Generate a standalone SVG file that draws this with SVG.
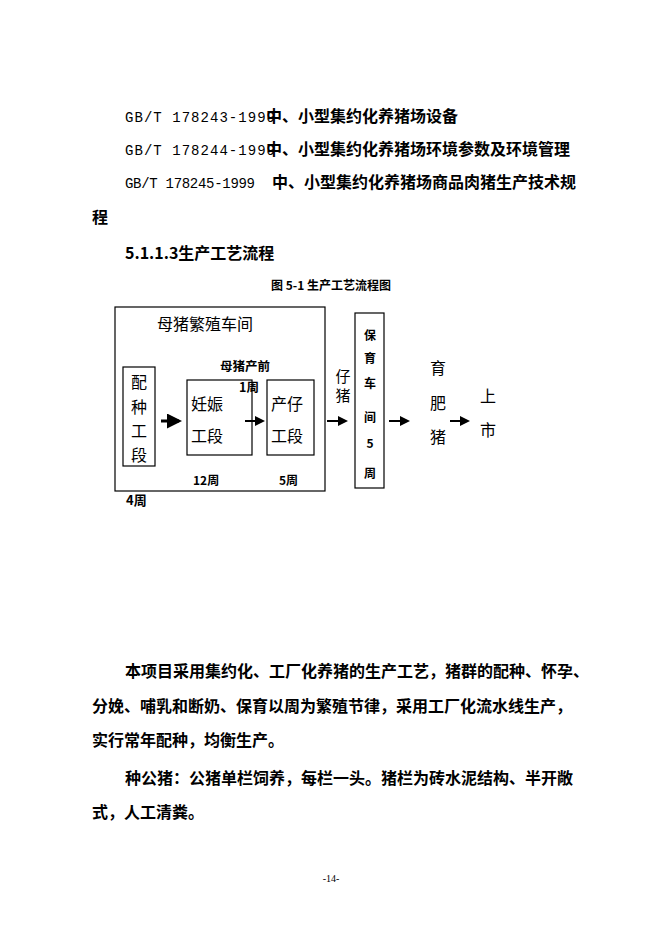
<svg xmlns="http://www.w3.org/2000/svg" width="662" height="936" viewBox="0 0 662 936">
<style>
.m{font-family:"Liberation Mono",monospace;font-size:14px}
.c{font-family:"Noto Sans CJK SC",sans-serif;font-size:16px}
.b{font-weight:bold}
.d{font-family:"Noto Sans CJK SC",sans-serif;font-size:16px}
.s{font-family:"Noto Sans CJK SC",sans-serif;font-size:12px;font-weight:bold}
rect{fill:none;stroke:#000;stroke-width:1.2}
</style>
<defs><marker id="a" markerWidth="5" markerHeight="5" refX="4" refY="2.5" orient="auto" markerUnits="strokeWidth"><path d="M0,0L5,2.5L0,5z"/></marker></defs>
<rect x="0" y="0" width="662" height="936" style="fill:#fff;stroke:none"/>
<text x="125" y="122" class="m" textLength="150">GB/T 178243-1999</text><text x="266" y="122" class="c b">中、小型集约化养猪场设备</text>
<text x="125" y="155" class="m" textLength="150">GB/T 178244-1999</text><text x="266" y="155" class="c b">中、小型集约化养猪场环境参数及环境管理</text>
<text x="125" y="188" class="m" textLength="130">GB/T  178245-1999</text><text x="272" y="188" class="c b">中、小型集约化养猪场商品肉猪生产技术规</text>
<text x="92" y="223" class="c b">程</text>
<text x="125" y="259" class="c b">5.1.1.3生产工艺流程</text>
<text x="331" y="290" class="s" text-anchor="middle">图 5-1 生产工艺流程图</text>
<g id="workshop"><rect x="115" y="307" width="210" height="184"/><text x="157" y="330" class="d">母猪繁殖车间</text></g>
<g id="peizhong"><rect x="123" y="367" width="32" height="99"/><text x="139" y="388" class="d" text-anchor="middle">配</text><text x="139" y="413" class="d" text-anchor="middle">种</text><text x="139" y="437" class="d" text-anchor="middle">工</text><text x="139" y="461" class="d" text-anchor="middle">段</text></g>
<g id="renshen"><rect x="187" y="380" width="65" height="75"/><text x="191" y="410" class="d">妊娠</text><text x="191" y="442" class="d">工段</text></g>
<g id="chanzi"><rect x="267" y="380" width="47" height="75"/><text x="271" y="410" class="d">产仔</text><text x="271" y="442" class="d">工段</text></g>
<g id="baoyu"><rect x="355" y="313" width="29" height="175"/>
<g class="s" text-anchor="middle"><text x="370" y="340">保</text><text x="370" y="363">育</text><text x="370" y="388">车</text><text x="370" y="422">间</text><text x="370" y="448">5</text><text x="370" y="478">周</text></g></g>
<g id="labels">
<text x="220" y="371" class="s" style="font-size:12.5px">母猪产前</text>
<text x="239" y="392" class="s" style="font-size:12.5px">1周</text>
<text x="193" y="485" class="s">12周</text><text x="279" y="485" class="s">5周</text>
<text x="126" y="505" class="s" style="font-size:13px">4周</text>
<text x="343" y="382" class="d" text-anchor="middle" style="font-size:15px">仔</text><text x="343" y="401" class="d" text-anchor="middle" style="font-size:15px">猪</text>
<text x="438" y="374" class="d" text-anchor="middle">育</text><text x="438" y="409" class="d" text-anchor="middle">肥</text><text x="438" y="443" class="d" text-anchor="middle">猪</text>
<text x="488" y="402" class="d" text-anchor="middle">上</text><text x="488" y="436" class="d" text-anchor="middle">市</text>
</g>
<g id="connectors" stroke="#000" marker-end="url(#a)">
<line x1="161" y1="421" x2="179" y2="421" stroke-width="3"/>
<line x1="245" y1="421" x2="263" y2="421" stroke-width="2"/>
<line x1="327" y1="421" x2="346" y2="421" stroke-width="2"/>
<line x1="389" y1="421" x2="408" y2="421" stroke-width="2"/>
<line x1="450" y1="421" x2="468" y2="421" stroke-width="2"/>
</g>
<g class="c b">
<text x="125" y="677">本项目采用集约化、工厂化养猪的生产工艺，猪群的配种、怀孕、</text>
<text x="92" y="712">分娩、哺乳和断奶、保育以周为繁殖节律，采用工厂化流水线生产，</text>
<text x="92" y="746">实行常年配种，均衡生产。</text>
<text x="125" y="784">种公猪：公猪单栏饲养，每栏一头。猪栏为砖水泥结构、半开敞</text>
<text x="92" y="818">式，人工清粪。</text>
</g>
<text x="331" y="882" style="font-family:'Liberation Serif',serif;font-size:10px" text-anchor="middle">-14-</text>
</svg>
